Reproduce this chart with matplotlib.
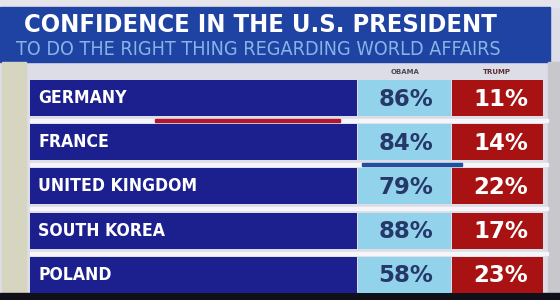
import matplotlib
matplotlib.use("Agg")
import matplotlib.pyplot as plt
from matplotlib.patches import Rectangle

# data
countries = ["GERMANY", "FRANCE", "UNITED KINGDOM", "SOUTH KOREA", "POLAND"]
obama = [86, 84, 79, 88, 58]
trump = [11, 14, 22, 17, 23]
title = "CONFIDENCE IN THE U.S. PRESIDENT"
subtitle = "TO DO THE RIGHT THING REGARDING WORLD AFFAIRS"
col_heads = ["OBAMA", "TRUMP"]

fig = plt.figure(figsize=(5.6, 3.0), dpi=100)
ax = fig.add_axes([0, 0, 1, 1])
ax.set_xlim(0, 560)
ax.set_ylim(300, 0)
ax.axis("off")
renderer = fig.canvas.get_renderer()


def fit_width(txt, width):
    # scale a text so it is `width` pixels wide
    w = txt.get_window_extent(renderer).width
    txt.set_fontsize(txt.get_fontsize() * width / w)


# background
ax.add_patch(Rectangle((0, 0), 560, 300, color="#dcdde6", zorder=0))
ax.add_patch(Rectangle((0, 0), 560, 7, color="#e4e4ea", zorder=1))
ax.add_patch(Rectangle((0, 7), 550, 55, color="#1f43a3", zorder=1))
ax.add_patch(Rectangle((548, 62), 12, 231, color="#c8c8cc", zorder=1))
ax.add_patch(Rectangle((2, 62), 24, 231, color="#d6d5c0", zorder=1))
ax.add_patch(Rectangle((0, 293), 560, 7, color="#101018", zorder=1))

t1 = ax.text(260, 25, title, color="white", fontsize=22, fontweight="bold",
             fontstretch="condensed", ha="center", va="center", zorder=3)
fit_width(t1, 470)
t2 = ax.text(258, 49.5, subtitle, color="#86b4e6", fontsize=12,
             fontstretch="condensed", ha="center", va="center", zorder=3)
fit_width(t2, 483)

ax.text(405, 72, col_heads[0], color="#4a4a5a", fontsize=5, fontweight="bold",
        ha="center", va="center", zorder=3)
ax.text(497, 72, col_heads[1], color="#5a3030", fontsize=5, fontweight="bold",
        ha="center", va="center", zorder=3)

row_y = [98 + 44.2 * i for i in range(len(countries))]
h = 36

ax.barh(row_y, 327, left=30, height=h, color="#1c1f8e", zorder=2)
ax.barh(row_y, 93, left=358, height=h, color="#92d2ea", zorder=2)
ax.barh(row_y, 91, left=452, height=h, color="#a81212", zorder=2)

# white separators between rows
for y in row_y[:-1]:
    ax.add_patch(Rectangle((30, y + 21), 518, 3, color="#f6f6fa", zorder=2))

# accent streaks from the transition
ax.add_patch(Rectangle((155, row_y[0] + 20.5), 185, 3.5, color="#b01830", zorder=3))
ax.add_patch(Rectangle((362, row_y[1] + 20.5), 100, 3.5, color="#2050a0", zorder=3))

for y, name, o, t in zip(row_y, countries, obama, trump):
    ax.text(38, y, name, color="white", fontsize=12.6, fontweight="bold",
            fontstretch="condensed", ha="left", va="center", zorder=3)
    ax.text(406, y + 1, f"{o}%", color="#26386a", fontsize=16.5, fontweight="bold",
            ha="center", va="center", zorder=3)
    ax.text(501, y + 1, f"{t}%", color="white", fontsize=16.5, fontweight="bold",
            ha="center", va="center", zorder=3)

fig.savefig("out.png", dpi=100)
